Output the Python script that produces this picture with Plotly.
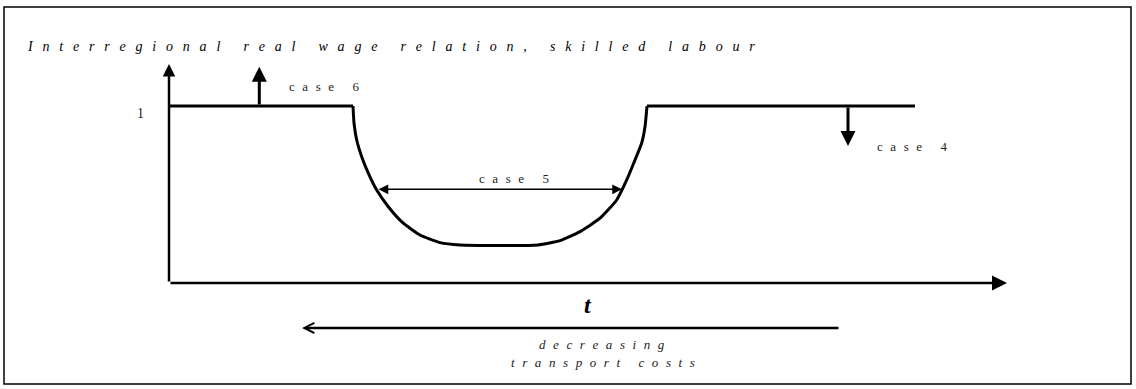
import plotly.graph_objects as go

# schematic curve: t (transport costs) vs interregional real wage relation
t_curve = [0.0, 1.84, 1.85, 1.877, 1.927, 1.993, 2.077, 2.193, 2.34, 2.51, 2.71, 2.91,
           3.69, 3.91, 4.11, 4.31, 4.477, 4.577, 4.66, 4.727, 4.76, 4.78, 7.46]
w_curve = [1.0, 1.0, 0.904, 0.808, 0.714, 0.621, 0.525, 0.431, 0.339, 0.271, 0.228, 0.215,
           0.215, 0.239, 0.290, 0.366, 0.469, 0.582, 0.695, 0.791, 0.883, 1.0, 1.0]

# arrows: (tip_t, tip_w, tail_t, tail_w)
axis_x = (8.38, 0.0, 0.0, 0.0)
axis_y = (0.0, 1.237, 0.0, 0.0)
case6 = (0.903, 1.222, 0.903, 1.0)
case4 = (6.79, 0.774, 6.79, 1.0)
case5 = (4.53, 0.529, 2.08, 0.529)
decreasing = (1.33, -0.254, 6.71, -0.254)

title = "Interregional real wage relation, skilled labour"


def spaced(s, sep="\u00a0\u00a0\u200a"):
    return sep.join(s.replace(" ", "\u00a0"))


fig = go.Figure()
line = dict(color="black", width=3)
# flat parts straight, the dip smoothed
fig.add_scatter(x=t_curve[:2], y=w_curve[:2], mode="lines", line=line, hoverinfo="skip")
fig.add_scatter(x=t_curve[1:-1], y=w_curve[1:-1], mode="lines",
                line=dict(line, shape="spline", smoothing=0.5), hoverinfo="skip")
fig.add_scatter(x=t_curve[-2:], y=w_curve[-2:], mode="lines", line=line, hoverinfo="skip")


def arrow(a, width, head, size, both=False):
    fig.add_annotation(x=a[0], y=a[1], ax=a[2], ay=a[3], xref="x", yref="y",
                       axref="x", ayref="y", text="", showarrow=True,
                       arrowhead=head, arrowsize=size, arrowwidth=width,
                       arrowcolor="black", arrowside="end+start" if both else "end",
                       startarrowhead=head, startarrowsize=size)


arrow(axis_x, 2.5, 2, 1.2)
arrow(axis_y, 2.5, 2, 1.0)
arrow(case6, 3, 2, 1.0)
arrow(case4, 3, 2, 1.0)
arrow(case5, 1.5, 2, 1.3, both=True)
arrow(decreasing, 2.5, 5, 0.8)

serif = "Liberation Serif, Times New Roman, serif"


def label(x, y, text, size, xanchor="left", color="#222", italic=False, bold=False):
    if italic:
        text = "<i>" + text + "</i>"
    if bold:
        text = "<b>" + text + "</b>"
    fig.add_annotation(x=x, y=y, xref="x", yref="y", text=text, showarrow=False,
                       xanchor=xanchor, yanchor="middle",
                       font=dict(family=serif, size=size, color=color))


label(-1.44, 1.339, spaced(title, "\u00a0\u00a0\u2009"), 14, italic=True, color="black")
label(-0.29, 0.96, "1", 14, xanchor="center")
label(1.18, 1.113, spaced("case 6"), 13)
label(7.06, 0.774, spaced("case 4"), 13)
label(3.45, 0.588, spaced("case 5"), 13, xanchor="center")
label(4.19, -0.124, "t", 24, xanchor="center", italic=True, bold=True, color="black")
label(4.33, -0.350, spaced("decreasing"), 13, xanchor="center", italic=True)
label(4.34, -0.452, spaced("transport costs"), 13, xanchor="center", italic=True)

fig.add_shape(type="rect", xref="paper", yref="paper",
              x0=4 / 1136, x1=1131 / 1136, y0=1 - 384 / 389, y1=1 - 7 / 389,
              line=dict(color="black", width=1.5))

fig.update_layout(
    width=1136, height=389, margin=dict(l=0, r=0, t=0, b=0),
    paper_bgcolor="white", plot_bgcolor="white", showlegend=False,
    xaxis=dict(range=[-1.69, 9.67], visible=False, fixedrange=True),
    yaxis=dict(range=[-0.599, 1.599], visible=False, fixedrange=True),
)

fig.write_html("out.html", config={"displayModeBar": False},
               post_script="document.body.style.margin='0';")
